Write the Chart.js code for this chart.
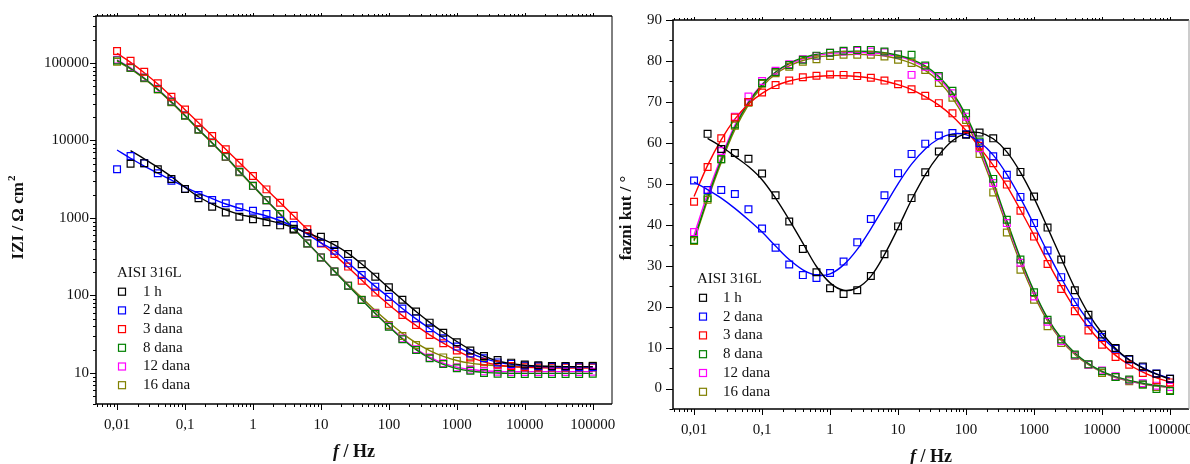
<!DOCTYPE html>
<html>
<head>
<meta charset="utf-8">
<script src="https://cdn.jsdelivr.net/npm/chart.js@4.4.1/dist/chart.umd.min.js"></script>
<style>
html, body { margin: 0; padding: 0; background: #fff; overflow: hidden; }
#wrap { position: relative; width: 1190px; height: 464px; overflow: hidden; }
#left { position: absolute; left: 0; top: 0; }
#right { position: absolute; left: 600px; top: 0; }
</style>
</head>
<body>
<div id="wrap">
  <canvas id="left" width="660" height="464"></canvas>
  <canvas id="right" width="640" height="464"></canvas>
</div>
<script>
// frequencies (Hz), 5 points per decade
const freq = [0.01, 0.0158, 0.0251, 0.0398, 0.0631, 0.1, 0.158, 0.251, 0.398, 0.631,
  1, 1.58, 2.51, 3.98, 6.31, 10, 15.8, 25.1, 39.8, 63.1,
  100, 158, 251, 398, 631, 1000, 1580, 2510, 3980, 6310,
  10000, 15800, 25100, 39800, 63100, 100000];

const seriesNames = ["1 h", "2 dana", "3 dana", "8 dana", "12 dana", "16 dana"];
const seriesColors = ["#000000", "#0000ff", "#ff0000", "#008000", "#ff00ff", "#808000"];

// |Z| / Ohm cm2 - measured points
const zPts1h = [null, 5000, 5100, 4250, 3180, 2370, 1795, 1400, 1180, 1040, 962, 880, 804, 728, 634, 574, 448, 343, 253, 175, 128, 88, 62, 44.6, 33, 24.9, 19.5, 16.6, 14.7, 13.6, 12.9, 12.6, 12.3, 12.3, 12.3, 12.3];
const zPts2d = [4250, 6300, 5080, 3780, 3020, 2370, 1980, 1710, 1550, 1375, 1240, 1125, 922, 810, 634, 478, 378, 260, 184, 130, 96, 68, 50.7, 37.8, 28, 21.9, 17.9, 15.5, 13.7, 13.1, 12.5, 12.2, 12.0, 12.0, 11.9, 11.9];
const zPts3d = [143000, 107000, 77000, 54700, 36700, 25100, 17000, 11400, 7700, 5170, 3480, 2340, 1575, 1070, 714, 470, 343, 236, 155, 109, 78, 56, 41.7, 31, 24.2, 19.5, 15.9, 14, 12.9, 12.3, 11.9, 11.8, 11.8, 11.8, 11.8, 11.8];
const zPts8d = [108000, 87000, 64500, 46000, 31700, 21000, 13900, 9400, 6200, 3960, 2600, 1700, 1130, 712, 470, 310, 204, 134, 87.5, 57.6, 39.6, 27.2, 19.8, 15.5, 13.1, 11.5, 10.7, 10.0, 9.8, 9.7, 9.7, 9.7, 9.7, 9.7, 9.7, 9.8];
const zPts12d = [110000, 88000, 65000, 46500, 32000, 21200, 14000, 9400, 6200, 3960, 2600, 1700, 1130, 712, 470, 310, 204, 134, 87.5, 58.5, 40, 27.8, 20.3, 15.8, 13.4, 11.8, 11.0, 10.5, 10.4, 10.3, 10.3, 10.3, 10.3, 10.3, 10.3, 10.4];
const zPts16d = [104000, 86000, 63500, 45500, 31200, 20800, 13800, 9300, 6100, 3900, 2580, 1690, 1120, 712, 470, 310, 204, 134, 88, 60, 41.7, 30, 23, 18.8, 15.9, 14.4, 13.6, 13.1, 12.8, 12.3, 12.3, 12.3, 12.3, 12.3, 12.3, 12.4];

// |Z| - fitted curves
const zFit1h = [null, 7400, 5800, 4500, 3420, 2500, 1880, 1515, 1270, 1115, 1025, 942, 855, 750, 640, 545, 450, 350, 255, 180, 125, 88, 62, 45, 33.5, 25.5, 20, 16.5, 14.3, 13.2, 12.6, 12.3, 12.2, 12.1, 12.1, 12.1];
const zFit2d = [7540, 5900, 4670, 3780, 3090, 2510, 2090, 1780, 1515, 1335, 1180, 1060, 922, 772, 620, 478, 378, 265, 186, 131, 95, 68, 50, 37.5, 28.3, 22, 18, 15.4, 13.8, 12.9, 12.4, 12.1, 12.0, 11.9, 11.9, 11.9];
const zFit3d = [133000, 102000, 75000, 53500, 36800, 25000, 17000, 11400, 7700, 5200, 3500, 2350, 1580, 1060, 715, 480, 335, 232, 158, 108, 76, 55, 41, 31, 24.3, 19.4, 16, 13.9, 12.7, 12.1, 11.8, 11.7, 11.6, 11.6, 11.6, 11.6];
const zFit8d = [108000, 85000, 63500, 45500, 31300, 21000, 13900, 9300, 6150, 4000, 2600, 1700, 1120, 730, 480, 315, 205, 135, 88.5, 58.5, 39.8, 27.5, 20, 15.5, 12.9, 11.4, 10.6, 10.2, 10.0, 9.9, 9.9, 9.9, 9.9, 9.9, 9.9, 9.9];
const zFit12d = [110000, 86500, 64000, 45800, 31500, 21100, 14000, 9350, 6180, 4020, 2610, 1710, 1125, 735, 482, 316, 206, 136, 89, 59, 40.3, 28, 20.5, 16, 13.4, 11.9, 11.1, 10.7, 10.5, 10.4, 10.4, 10.4, 10.4, 10.4, 10.4, 10.4];
const zFit16d = [105000, 84000, 62500, 45000, 31000, 20800, 13800, 9250, 6100, 3950, 2580, 1690, 1115, 728, 478, 316, 208, 139, 94, 64, 45, 32.5, 24.5, 19.5, 16.4, 14.5, 13.4, 12.8, 12.4, 12.2, 12.1, 12.1, 12.1, 12.1, 12.1, 12.1];

// phase angle / deg - measured points
const phPts1h = [null, 62.2, 58.5, 57.5, 56.1, 52.5, 47.2, 40.8, 34.1, 28.4, 24.5, 23.1, 24.0, 27.5, 32.8, 39.6, 46.5, 52.8, 57.9, 61.1, 62.0, 62.5, 61.1, 57.8, 52.9, 46.9, 39.3, 31.5, 24.0, 18.0, 13.2, 9.9, 7.2, 5.4, 3.6, 2.4];
const phPts2d = [50.8, 48.5, 48.5, 47.5, 43.8, 39.1, 34.4, 30.3, 27.7, 27.0, 28.2, 31.0, 35.7, 41.4, 47.2, 52.6, 57.3, 59.8, 61.8, 62.4, 62.1, 59.9, 56.7, 52.2, 46.8, 40.4, 33.7, 27.2, 21.1, 16.2, 12.6, 9.7, 7.1, 5.2, 3.7, 2.4];
const phPts3d = [45.6, 54.1, 61.1, 66.2, 70.0, 72.3, 74.1, 75.2, 76.0, 76.4, 76.7, 76.6, 76.3, 75.9, 75.2, 74.3, 73.1, 71.5, 69.7, 67.2, 63.3, 59.3, 55.0, 49.8, 43.4, 37.1, 30.4, 24.3, 18.9, 14.2, 10.7, 7.7, 5.8, 3.8, 2.0, 1.5];
const phPts8d = [36.3, 46.5, 56.0, 64.5, 70.0, 74.6, 77.3, 79.0, 80.3, 81.3, 82.0, 82.5, 82.7, 82.7, 82.3, 81.6, 81.5, 78.9, 76.3, 72.7, 67.2, 60.3, 51.2, 41.2, 31.5, 23.5, 16.8, 12.0, 8.3, 5.9, 4.2, 2.8, 2.2, 1.0, -0.1, -0.6];
const phPts12d = [38.2, 48.5, 58.0, 66.4, 71.3, 75.1, 77.6, 79.2, 80.4, 81.2, 82.0, 82.3, 82.5, 82.3, 82.1, 81.6, 76.6, 78.6, 76.0, 72.1, 66.4, 58.7, 50.2, 40.4, 30.7, 22.5, 16.3, 11.6, 8.1, 5.8, 4.4, 3.0, 2.0, 1.3, 0.7, 0.4];
const phPts16d = [36.0, 46.1, 56.0, 64.2, 69.8, 74.4, 77.0, 78.6, 79.8, 80.4, 81.2, 81.5, 81.5, 81.5, 81.1, 80.3, 79.5, 77.8, 74.6, 71.0, 65.6, 57.3, 47.9, 38.1, 29.0, 21.7, 15.2, 11.1, 8.0, 5.8, 3.8, 2.8, 1.8, 1.0, 0.4, -0.4];

// phase angle - fitted curves
const phFit1h = [null, 61.1, 59.1, 56.7, 54.2, 51.0, 46.5, 41.2, 35.5, 29.8, 25.8, 24.0, 24.6, 27.4, 32.7, 39.2, 46.1, 52.2, 57.0, 60.5, 62.3, 62.5, 61.0, 57.8, 52.8, 46.5, 39.3, 31.8, 24.5, 18.3, 13.5, 9.8, 7.0, 5.0, 3.5, 2.3];
const phFit2d = [50.4, 48.6, 46.5, 44.0, 41.2, 38.2, 34.8, 31.5, 29.0, 27.7, 28.0, 30.2, 34.0, 39.0, 44.5, 50.0, 54.8, 58.5, 61.0, 62.2, 62.0, 60.2, 57.0, 52.3, 46.5, 40.0, 33.3, 27.0, 21.3, 16.5, 12.6, 9.5, 7.0, 5.1, 3.6, 2.5];
const phFit3d = [46.9, 54.5, 60.8, 65.8, 69.5, 72.1, 73.9, 75.1, 75.8, 76.2, 76.4, 76.4, 76.2, 75.8, 75.1, 74.2, 73.0, 71.3, 69.2, 66.5, 63.0, 58.9, 54.5, 49.5, 43.6, 37.4, 31.0, 25.0, 19.5, 14.9, 11.1, 8.1, 5.8, 4.0, 2.6, 1.6];
const phFit8d = [36.3, 46.5, 55.8, 63.8, 69.8, 74.2, 77.3, 79.4, 80.8, 81.6, 82.1, 82.3, 82.4, 82.3, 82.0, 81.4, 80.4, 78.8, 76.2, 72.3, 66.7, 59.3, 50.5, 41.0, 31.8, 23.8, 17.2, 12.3, 8.7, 6.1, 4.2, 2.9, 2.0, 1.3, 0.8, 0.4];
const phFit12d = [37.5, 47.5, 56.5, 64.3, 70.1, 74.3, 77.2, 79.2, 80.5, 81.3, 81.8, 82.0, 82.1, 82.0, 81.7, 81.1, 80.1, 78.4, 75.8, 71.8, 66.1, 58.7, 49.9, 40.5, 31.4, 23.5, 17.0, 12.1, 8.6, 6.0, 4.1, 2.8, 1.9, 1.2, 0.7, 0.3];
const phFit16d = [36.0, 46.0, 55.2, 63.2, 69.3, 73.7, 76.8, 78.8, 80.1, 80.9, 81.3, 81.5, 81.6, 81.5, 81.2, 80.5, 79.4, 77.7, 75.0, 71.0, 65.3, 57.8, 49.0, 39.6, 30.6, 22.8, 16.5, 11.8, 8.3, 5.8, 4.0, 2.7, 1.8, 1.1, 0.6, 0.2];

// tick labels
const freqTicks = [0.01, 0.1, 1, 10, 100, 1000, 10000, 100000];
const zTicks = [10, 100, 1000, 10000, 100000];
const phaseTicks = [0, 10, 20, 30, 40, 50, 60, 70, 80, 90];

const legendTitle = "AISI 316L";
const serif = "'Liberation Serif', 'Times New Roman', serif";
Chart.defaults.font.family = serif;
Chart.defaults.color = "#111";

function toXY(vals) {
  return freq.map((f, i) => ({ x: f, y: vals[i] })).filter(p => p.y !== null);
}

function buildSets(pts, fits) {
  const sets = [];
  seriesNames.forEach((n, i) => {
    sets.push({
      label: n, data: toXY(pts[i]), showLine: false,
      pointStyle: "rect", pointRadius: 4.8, pointBorderWidth: 1.2,
      borderColor: seriesColors[i], backgroundColor: "rgba(0,0,0,0)"
    });
  });
  seriesNames.forEach((n, i) => {
    sets.push({
      label: n + " fit", data: toXY(fits[i]), showLine: true,
      pointRadius: 0, borderColor: seriesColors[i], borderWidth: 1.4,
      tension: 0.35, fill: false
    });
  });
  return sets;
}

function fmt(v) {
  return String(v).replace(".", ",");
}

function line(ctx, x1, y1, x2, y2) {
  ctx.beginPath(); ctx.moveTo(x1, y1); ctx.lineTo(x2, y2); ctx.stroke();
}

// draws the frame, minor ticks, axis titles and the legend
const framePlugin = {
  id: "frame",
  afterDraw(chart, args, o) {
    const ctx = chart.ctx, a = chart.chartArea;
    const xs = chart.scales.x, ys = chart.scales.y;
    ctx.save();
    ctx.strokeStyle = "#000";
    ctx.lineWidth = 1.5;
    ctx.beginPath();
    ctx.moveTo(a.right, a.top); ctx.lineTo(a.left, a.top);
    ctx.lineTo(a.left, a.bottom); ctx.lineTo(a.right, a.bottom);
    ctx.stroke();
    ctx.strokeStyle = o.rightColor;
    ctx.lineWidth = 1;
    line(ctx, a.right, a.top, a.right, a.bottom);

    ctx.strokeStyle = "#000";
    ctx.lineWidth = 1;
    // log frequency ticks
    for (let d = -3; d <= 5; d++) {
      for (let m = 1; m <= 9; m++) {
        const v = m * Math.pow(10, d);
        if (v < xs.min || v > xs.max) continue;
        const px = Math.round(xs.getPixelForValue(v)) + 0.5;
        const major = m === 1;
        line(ctx, px, a.bottom, px, a.bottom + (major ? 6 : 3));
        line(ctx, px, a.top, px, a.top - (major ? 3 : 2));
      }
    }
    // y ticks
    if (ys.type === "logarithmic") {
      for (let d = 0; d <= 5; d++) {
        for (let m = 1; m <= 9; m++) {
          const v = m * Math.pow(10, d);
          if (v < ys.min || v > ys.max) continue;
          const py = Math.round(ys.getPixelForValue(v)) + 0.5;
          line(ctx, a.left, py, a.left - (m === 1 ? 6 : 3), py);
        }
      }
    } else {
      for (let v = -5; v <= 90; v += 5) {
        const py = Math.round(ys.getPixelForValue(v)) + 0.5;
        line(ctx, a.left, py, a.left - (v % 10 === 0 ? 7 : 3.5), py);
      }
    }

    // x title: italic f + " / Hz"
    ctx.fillStyle = "#111";
    ctx.textBaseline = "middle";
    ctx.textAlign = "left";
    ctx.font = "italic bold 18px " + serif;
    const w1 = ctx.measureText("f").width;
    ctx.font = "bold 18px " + serif;
    const w2 = ctx.measureText(" / Hz").width;
    let sx = o.xTitle[0] - (w1 + w2) / 2;
    ctx.font = "italic bold 18px " + serif;
    ctx.fillText("f", sx, o.xTitle[1]);
    ctx.font = "bold 18px " + serif;
    ctx.fillText(" / Hz", sx + w1, o.xTitle[1]);

    // y title, rotated
    ctx.save();
    ctx.translate(o.yTitle[0], o.yTitle[1]);
    ctx.rotate(-Math.PI / 2);
    ctx.font = "bold 17px " + serif;
    const main = o.yText, sup = o.ySup || "";
    const wm = ctx.measureText(main).width;
    ctx.font = "bold 11px " + serif;
    const ws = ctx.measureText(sup).width;
    const st = -(wm + ws) / 2;
    ctx.font = "bold 17px " + serif;
    ctx.fillText(main, st, 0);
    if (sup) {
      ctx.font = "bold 11px " + serif;
      ctx.fillText(sup, st + wm + 1, -7);
    }
    ctx.restore();

    // legend
    const L = o.legend;
    ctx.font = "15px " + serif;
    ctx.fillStyle = "#111";
    ctx.fillText(legendTitle, L.x, L.y);
    seriesNames.forEach((n, i) => {
      const y = L.y + (i + 1) * L.dy;
      ctx.strokeStyle = seriesColors[i];
      ctx.lineWidth = 1.2;
      ctx.strokeRect(L.box - 3.5, y - 3.5, 7, 7);
      ctx.fillStyle = "#111";
      ctx.fillText(n, L.text, y);
    });
    ctx.restore();
  }
};

function axisFont() {
  return { family: serif, size: 15 };
}

// left chart: |Z| vs f
new Chart(document.getElementById("left").getContext("2d"), {
  type: "scatter",
  data: {
    datasets: buildSets([zPts1h, zPts2d, zPts3d, zPts8d, zPts12d, zPts16d],
                        [zFit1h, zFit2d, zFit3d, zFit8d, zFit12d, zFit16d])
  },
  options: {
    responsive: false,
    animation: false,
    layout: { padding: { top: 16, right: 48, left: 0, bottom: 0 } },
    scales: {
      x: {
        type: "logarithmic", min: 0.0049, max: 192000,
        afterBuildTicks: s => { s.ticks = freqTicks.map(v => ({ value: v })); },
        afterFit: s => { s.height = 60; },
        grid: { display: false, drawTicks: false },
        border: { display: false },
        ticks: { padding: 12, font: axisFont(), color: "#111", maxRotation: 0, autoSkip: false, callback: v => fmt(v) }
      },
      y: {
        type: "logarithmic", min: 3.98, max: 404000,
        afterBuildTicks: s => { s.ticks = zTicks.map(v => ({ value: v })); },
        afterFit: s => { s.width = 96; },
        grid: { display: false, drawTicks: false },
        border: { display: false },
        ticks: { padding: 7, font: axisFont(), color: "#111", autoSkip: false, callback: v => String(v) }
      }
    },
    plugins: {
      legend: { display: false },
      tooltip: { enabled: false },
      frame: {
        rightColor: "#000",
        xTitle: [354, 452],
        yTitle: [19, 218],
        yText: "IZI / \u03a9 cm", ySup: "2",
        legend: { x: 117, y: 273, dy: 18.7, box: 122, text: 143 }
      }
    }
  },
  plugins: [framePlugin]
});

// right chart: phase angle vs f
new Chart(document.getElementById("right").getContext("2d"), {
  type: "scatter",
  data: {
    datasets: buildSets([phPts1h, phPts2d, phPts3d, phPts8d, phPts12d, phPts16d],
                        [phFit1h, phFit2d, phFit3d, phFit8d, phFit12d, phFit16d])
  },
  options: {
    responsive: false,
    animation: false,
    layout: { padding: { top: 20, right: 51, left: 0, bottom: 0 } },
    scales: {
      x: {
        type: "logarithmic", min: 0.0049, max: 190000,
        afterBuildTicks: s => { s.ticks = freqTicks.map(v => ({ value: v })); },
        afterFit: s => { s.height = 55; },
        grid: { display: false, drawTicks: false },
        border: { display: false },
        ticks: { padding: 12, font: axisFont(), color: "#111", maxRotation: 0, autoSkip: false, callback: v => fmt(v) }
      },
      y: {
        type: "linear", min: -5, max: 90,
        afterBuildTicks: s => { s.ticks = phaseTicks.map(v => ({ value: v })); },
        afterFit: s => { s.width = 73; },
        grid: { display: false, drawTicks: false },
        border: { display: false },
        ticks: { padding: 11, font: axisFont(), color: "#111", autoSkip: false, callback: v => String(v) }
      }
    },
    plugins: {
      legend: { display: false },
      tooltip: { enabled: false },
      frame: {
        rightColor: "#999",
        xTitle: [331, 457],
        yTitle: [27, 218],
        yText: "fazni kut / \u00b0", ySup: "",
        legend: { x: 97, y: 279, dy: 18.8, box: 103, text: 123 }
      }
    }
  },
  plugins: [framePlugin]
});
</script>
</body>
</html>
